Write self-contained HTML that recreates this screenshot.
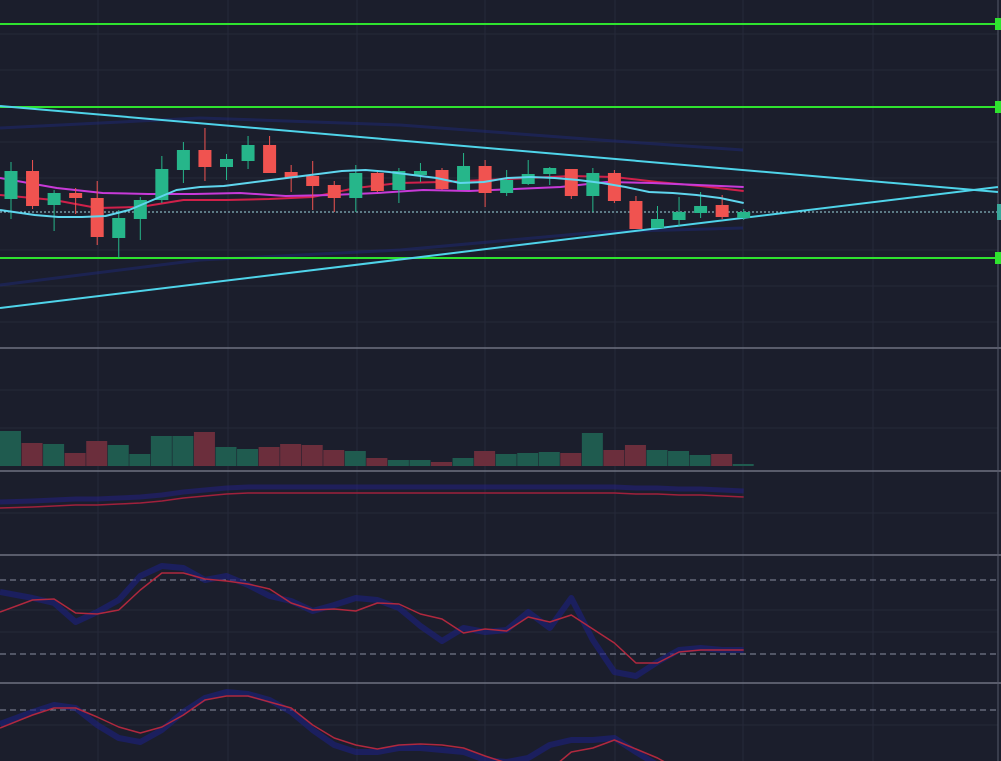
<!DOCTYPE html>
<html><head><meta charset="utf-8"><style>
html,body{margin:0;padding:0;background:#1b1e2c;overflow:hidden}
svg{display:block;font-family:"Liberation Sans",sans-serif}
</style></head><body>
<svg id="c" width="1001" height="761">
<rect width="1001" height="761" fill="#1b1e2c"/>
<g id="grid"></g>
<g id="main"></g>
<g id="vol"></g>
<g id="p3"></g>
<g id="p4"></g>
<g id="p5"></g>
</svg>
<script>
// Price values expressed in chart units (higher = up)
const opens  = [101,129,95,107,102,62,81,100,130,150,133,139,155,128,124,115,102,127,110,125,130,110,134,107,116,126,131,104,127,99,72,80,87,95,82];
const closes = [129,94,107,102,63,82,100,131,150,133,141,155,127,122,114,102,127,109,129,129,111,134,107,120,126,132,104,127,99,71,81,88,94,83,88];
const highs  = [138,140,110,112,119,90,103,144,158,172,146,164,164,135,139,119,135,130,132,137,132,147,140,130,140,133,131,132,130,104,94,103,108,105,91];
const lows   = [81,91,69,86,55,42,60,97,117,119,120,131,127,108,90,88,88,108,97,118,110,110,93,104,115,115,101,88,97,71,72,74,82,81,80];
const volumes= [35,23,22,13,25,21,12,30,30,34,19,17,19,22,21,16,15,8,6,6,4,8,15,12,13,14,13,33,16,21,16,15,11,12,2];
const maFast = [90,85,83,83,84,90,100,110,113,114,117,120,123,126,129,130,128,125,122,117,118,122,123,122,120,117,113,108,107,105,102,97];
const maMid  = [122,112,107,106,106,107,104,105,107,110,109,111,113,118,117,115,113];
const maSlow = [105,100,92,93,100,100,101,103,112,117,118,120,122,124,123,118,114,109];
const rsiRed = [612,600,599,613,614,610,590,573,573,579,581,584,589,603,610,609,611,603,604,614,619,633,629,631,617,622,615,629,643,663,663,652,650,650,650];
const rsiBlue= [592,598,603,622,612,600,576,566,568,580,576,585,596,601,611,605,598,600,608,626,641,628,632,630,612,628,598,640,672,676,662,650,648,650,650];
const stRed  = [728,715,708,708,717,727,733,727,715,700,696,696,702,708,725,738,745,749,745,744,745,748,756,763,770,770,752,748,740,749,758,770,775,775,775];
const stBlue = [724,712,705,708,725,738,742,730,712,698,692,694,700,712,730,745,752,752,748,748,750,752,760,762,758,745,740,740,738,752,765,775,775,775,775];
const p3Red  = [508,507,506,505,505,504,503,501,498,496,494,493,493,493,493,493,493,493,493,493,493,493,493,493,493,493,493,493,493,494,494,495,495,496,497];

const NS='http://www.w3.org/2000/svg';
const svg=document.getElementById('c');
function mk(t,a,p){const e=document.createElementNS(NS,t);for(const k in a)e.setAttribute(k,a[k]);p.appendChild(e);return e;}
const x0=11, dx=21.55;
const xS=i=>x0+i*dx;
const yP=v=>300-v;
const yV=v=>466-v;
const G=document.getElementById('grid');
[98,228,357,485,615,743,873].forEach(x=>{const l=mk('line',{x1:x,x2:x,y1:0,y2:761,stroke:'#262a3a','stroke-width':1},G);

});
[34,70,142,178,250,286,322,390,428,513,610,632,725].forEach(y=>{const l=mk('line',{x1:0,x2:998,y1:y,y2:y,stroke:'#252938','stroke-width':1},G);

});
[348,471,555,683].forEach(y=>{const l=mk('line',{x1:0,x2:1001,y1:y,y2:y,stroke:'#6e7180','stroke-width':1.5},G);

});
const ax=mk('line',{x1:998,x2:998,y1:0,y2:761,stroke:'#55596a','stroke-width':1},G);



const M=document.getElementById('main');
function poly(pts,st,w,p,name,op){const e=mk('polyline',{points:pts.map(q=>q.join(',')).join(' '),fill:'none',stroke:st,'stroke-width':w,'stroke-linejoin':'round',opacity:op||1},p);

return e;}
// faint bands
poly([[0,128],[200,118],[400,125],[600,140],[743,150]],'#1f2a8a',3,M,'band-upper',0.4);
poly([[0,285],[200,260],[400,250],[600,232],[743,228]],'#1f2a8a',3,M,'band-lower',0.4);
[24,107,258].forEach(y=>{const l=mk('line',{x1:0,x2:998,y1:y,y2:y,stroke:'#2fe32f','stroke-width':2},M);


const t=mk('rect',{x:995,y:y-6,width:6,height:12,fill:'#2fe32f'},M);

});
const dl=mk('line',{x1:0,x2:998,y1:212,y2:212,stroke:'#9fd8e0','stroke-width':1,'stroke-dasharray':'2,2'},M);


const tg=mk('rect',{x:997,y:204,width:4,height:16,fill:'#3aa79a'},M);


const t1=mk('line',{x1:0,y1:106,x2:998,y2:192,stroke:'#4fd4ea','stroke-width':2},M);


const t2=mk('line',{x1:0,y1:308,x2:998,y2:187,stroke:'#4fd4ea','stroke-width':2},M);


function maPts(arr){const n=arr.length,s=(closes.length-1)/(n-1);return arr.map((v,i)=>[xS(i*s)-(i==0?11:0),yP(v)]);}
poly(maPts(maSlow),'#d0204a',2,M,'ma-slow');
poly(maPts(maMid),'#c83ad8',2,M,'ma-mid');
for(let i=0;i<closes.length;i++){
 const up=closes[i]>=opens[i];const c=up?'#26b68a':'#f05350';const x=xS(i);
 const w=mk('line',{x1:x,x2:x,y1:yP(highs[i]),y2:yP(lows[i]),stroke:c,'stroke-width':1},M);
 
 
 const t=yP(Math.max(opens[i],closes[i])),b=yP(Math.min(opens[i],closes[i]));
 const r=mk('rect',{x:x-6.5,y:t,width:13,height:Math.max(1.5,b-t),fill:c},M);
 
 
}
poly(maPts(maFast),'#5fd6ee',2,M,'ma-fast');

const V=document.getElementById('vol');
for(let i=0;i<volumes.length;i++){const up=closes[i]>=opens[i];
 const r=mk('rect',{x:xS(i)-11,y:yV(volumes[i]),width:21,height:volumes[i],fill:up?'#1f5b4f':'#6b2e3c'},V);
 
 }

const P3=document.getElementById('p3');
poly(p3Red.map((v,i)=>[xS(i)-(i==0?11:0),v-6]),'#23208a',5,P3,'p3-band',0.5);
poly(p3Red.map((v,i)=>[xS(i)-(i==0?11:0),v]),'#a0203c',1.5,P3,'p3-line');

const P4=document.getElementById('p4');
[580,654].forEach(y=>{const l=mk('line',{x1:0,x2:998,y1:y,y2:y,stroke:'#8a8da0','stroke-width':1,'stroke-dasharray':'6,4'},P4);

});
poly(rsiBlue.map((v,i)=>[xS(i)-(i==0?11:0),v]),'#1c1f80',6,P4,'rsi-signal',0.6);
poly(rsiRed.map((v,i)=>[xS(i)-(i==0?11:0),v]),'#b0283e',1.5,P4,'rsi-line');

const P5=document.getElementById('p5');
const cp=mk('clipPath',{id:'cp5'},svg);const cr=mk('rect',{x:0,y:684,width:1001,height:77},cp);
P5.setAttribute('clip-path','url(#cp5)');
const l5=mk('line',{x1:0,x2:998,y1:710,y2:710,stroke:'#8a8da0','stroke-width':1,'stroke-dasharray':'6,4'},P5);


poly(stBlue.map((v,i)=>[xS(i)-(i==0?11:0),v]),'#1c1f80',6,P5,'stoch-signal',0.6);
poly(stRed.map((v,i)=>[xS(i)-(i==0?11:0),v]),'#b0283e',1.5,P5,'stoch-line');
</script>
</body></html>
